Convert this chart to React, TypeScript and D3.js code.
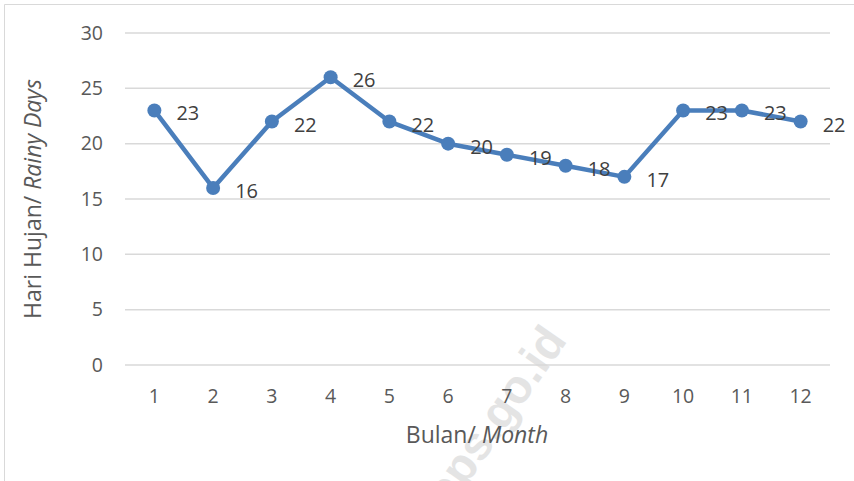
import React from "react";
import * as d3 from "d3";

const months = ["1", "2", "3", "4", "5", "6", "7", "8", "9", "10", "11", "12"];
const rainyDays = [23, 16, 22, 26, 22, 20, 19, 18, 17, 23, 23, 22];
const yTicks = [0, 5, 10, 15, 20, 25, 30];

const W = 854;
const H = 481;
const FONT = "'Open Sans', 'Noto Sans', sans-serif";

export default function App() {
  const x = d3.scaleBand<string>().domain(months).range([125, 830]);
  const y = d3.scaleLinear().domain([0, 30]).range([365, 33]);
  const cx = (m: string) => (x(m) as number) + x.bandwidth() / 2;
  const line = d3
    .line<number>()
    .x((_, i) => cx(months[i]))
    .y((d) => y(d));

  return (
    <svg
      width={W}
      height={H}
      style={{ position: "absolute", left: 0, top: 0, background: "#fff" }}
      fontFamily={FONT}
    >
      <rect x={0} y={0} width={W} height={H} fill="#fff" />
      <line x1={4.5} x2={W} y1={4.5} y2={4.5} stroke="#d9d9d9" strokeWidth={1} />
      <line x1={4.5} x2={4.5} y1={4.5} y2={H} stroke="#d9d9d9" strokeWidth={1} />
      <text
        transform="translate(508,426) rotate(-55)"
        textAnchor="middle"
        fontSize={47}
        fontWeight="bold"
        fill="#e4e4e4"
        fontFamily="'Liberation Sans', Arial, sans-serif"
      >
        bps.go.id
      </text>
      {yTicks.map((t) => (
        <g key={t}>
          <line x1={125} x2={830} y1={y(t)} y2={y(t)} stroke="#d9d9d9" strokeWidth={1.5} />
          <text x={103} y={y(t)} dy="0.35em" textAnchor="end" fontSize={19.5} fill="#595959">
            {t}
          </text>
        </g>
      ))}
      {months.map((m) => (
        <text key={m} x={cx(m)} y={396} dy="0.35em" textAnchor="middle" fontSize={19.5} fill="#595959">
          {m}
        </text>
      ))}
      <text x={477} y={435} dy="0.35em" textAnchor="middle" fontSize={23} fill="#595959">
        Bulan/ <tspan fontStyle="italic">Month</tspan>
      </text>
      <text
        transform="translate(33,199) rotate(-90)"
        dy="0.35em"
        textAnchor="middle"
        fontSize={23}
        fill="#595959"
      >
        Hari Hujan/ <tspan fontStyle="italic">Rainy Days</tspan>
      </text>
      <path d={line(rainyDays) || ""} fill="none" stroke="#4a7ebb" strokeWidth={4.5} strokeLinejoin="round" />
      {rainyDays.map((v, i) => (
        <circle key={i} cx={cx(months[i])} cy={y(v)} r={7} fill="#4a7ebb" />
      ))}
      {rainyDays.map((v, i) => (
        <text key={"l" + i} x={cx(months[i]) + 22} y={y(v)} dy="0.5em" fontSize={20} fill="#404040">
          {v}
        </text>
      ))}
    </svg>
  );
}
